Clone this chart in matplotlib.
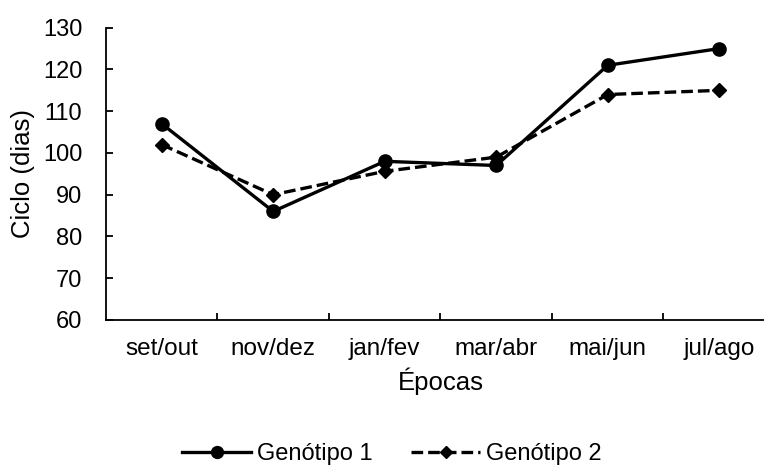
import matplotlib.pyplot as plt

plt.rcParams['font.family'] = ['Liberation Sans', 'DejaVu Sans']

epocas = ['set/out', 'nov/dez', 'jan/fev', 'mar/abr', 'mai/jun', 'jul/ago']
genotipo1 = [107, 86, 98, 97, 121, 125]
genotipo2 = [102, 90, 95.6, 99, 114, 115]

fig = plt.figure(figsize=(7.64, 4.67), dpi=100)
# axis runs slightly past the right edge, as in the reference
ax = fig.add_axes([0.1387, 0.3148, 0.8757, 0.6259])

x = range(len(epocas))
ax.plot(x, genotipo1, color='black', lw=2.4, marker='o', ms=9.5, label='Genótipo 1')
ax.plot(x, genotipo2, color='black', lw=2.4, ls=(0, (3.5, 1.5)), marker='D', ms=7, label='Genótipo 2')

ax.set_xlim(-0.5, len(epocas) - 0.5)
ax.set_ylim(60, 130)
ax.set_yticks(range(60, 131, 10))
ax.set_xticks([i + 0.5 for i in range(len(epocas) - 1)])
ax.set_xticklabels([])
for i, lab in enumerate(epocas):
    ax.text(i, -0.1, lab, transform=ax.get_xaxis_transform(), ha='center', va='center', fontsize=17.5)

ax.tick_params(axis='both', direction='in', length=5, width=1.3, labelsize=17)
ax.tick_params(axis='y', pad=17)
for s in ['top', 'right']:
    ax.spines[s].set_visible(False)
for s in ['left', 'bottom']:
    ax.spines[s].set_linewidth(1.3)

ax.set_ylabel('Ciclo (dias)', fontsize=18.5)
ax.yaxis.set_label_coords(-0.106, 0.5)
ax.set_xlabel('Épocas', fontsize=18.5)
ax.xaxis.set_label_coords(0.5, -0.209)
ax.xaxis.label.set_va('center')

fig.legend(loc='center', bbox_to_anchor=(0.513, 0.028), ncol=2, frameon=False, fontsize=17,
           handlelength=2.9, columnspacing=1.65, handletextpad=0.25, markerscale=0.9)

fig.savefig('out.png', dpi=100)
